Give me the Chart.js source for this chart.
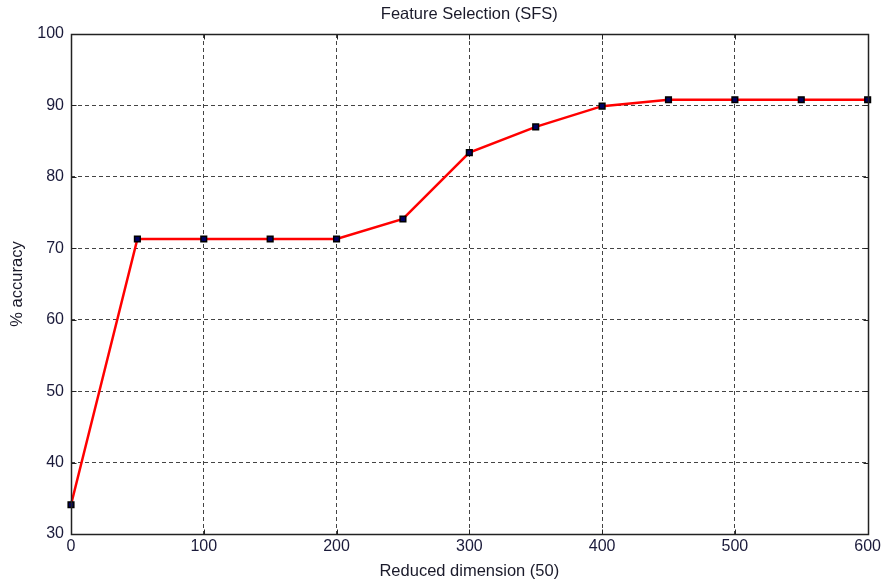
<!DOCTYPE html>
<html>
<head>
<meta charset="utf-8">
<style>
html,body{margin:0;padding:0;background:#fff;}
#wrap{width:884px;height:581px;position:relative;}
</style>
<script src="https://cdn.jsdelivr.net/npm/chart.js@4/dist/chart.umd.min.js"></script>
</head>
<body>
<div id="wrap"><canvas id="c" width="884" height="581"></canvas></div>
<script>
const dimensions = [0, 50, 100, 150, 200, 250, 300, 350, 400, 450, 500, 550, 600];
const accuracy = [34.1, 71.3, 71.3, 71.3, 71.3, 74.1, 83.4, 87.0, 89.9, 90.8, 90.8, 90.8, 90.8];
const xTicks = [0, 100, 200, 300, 400, 500, 600];
const yTicks = [30, 40, 50, 60, 70, 80, 90, 100];

const FONT = "'Liberation Sans', Arial, sans-serif";
const X_MIN = xTicks[0], X_MAX = xTicks[xTicks.length - 1];
const Y_MIN = yTicks[0], Y_MAX = yTicks[yTicks.length - 1];

const boxPlugin = {
  id: 'box',
  afterDatasetsDraw(chart) {
    const {ctx, scales} = chart;
    const x0 = Math.round(scales.x.getPixelForValue(X_MIN)) + 0.5;
    const x1 = Math.round(scales.x.getPixelForValue(X_MAX)) + 0.5;
    const y0 = Math.round(scales.y.getPixelForValue(Y_MIN)) + 0.5;
    const y1 = Math.round(scales.y.getPixelForValue(Y_MAX)) + 0.5;
    ctx.save();
    ctx.strokeStyle = '#222';
    ctx.lineWidth = 1;
    ctx.setLineDash([]);
    ctx.beginPath();
    const L = 5;
    xTicks.forEach(v => {
      const px = Math.round(scales.x.getPixelForValue(v)) + 0.5;
      ctx.moveTo(px, y0); ctx.lineTo(px, y0 - L);
      ctx.moveTo(px, y1); ctx.lineTo(px, y1 + L);
    });
    yTicks.forEach(v => {
      const py = Math.round(scales.y.getPixelForValue(v)) + 0.5;
      ctx.moveTo(x0, py); ctx.lineTo(x0 + L, py);
      ctx.moveTo(x1, py); ctx.lineTo(x1 - L, py);
    });
    ctx.stroke();
    ctx.lineWidth = 1.5;
    ctx.strokeRect(x0, y1, x1 - x0, y0 - y1);
    ctx.restore();
  }
};

const gridColor = (lo, hi) => c => (c.tick && (c.tick.value === lo || c.tick.value === hi)) ? 'rgba(0,0,0,0)' : '#444';

new Chart(document.getElementById('c'), {
  type: 'line',
  data: {
    datasets: [{
      data: dimensions.map((d, i) => ({x: d, y: accuracy[i]})),
      borderColor: '#ff0000',
      borderWidth: 2.5,
      tension: 0,
      pointStyle: 'rect',
      pointRadius: 4,
      pointBorderWidth: 1.5,
      pointBackgroundColor: '#000060',
      pointBorderColor: '#000000',
      clip: false
    }]
  },
  options: {
    responsive: false,
    animation: false,
    events: [],
    layout: {padding: {left: 0, right: 14, top: 0, bottom: 0}},
    plugins: {
      legend: {display: false},
      tooltip: {enabled: false},
      title: {
        display: true,
        fullSize: false,
        text: 'Feature Selection (SFS)',
        color: '#1a1a2a',
        font: {family: FONT, size: 16.5, weight: 'normal', lineHeight: 1.2},
        padding: {top: 5, bottom: 9.2}
      }
    },
    scales: {
      x: {
        type: 'linear',
        min: X_MIN, max: X_MAX,
        afterBuildTicks: s => { s.ticks = xTicks.map(v => ({value: v})); },
        afterFit: s => { s.height = 47; },
        ticks: {color: '#1a1a3a', font: {family: FONT, size: 16}, padding: 3, maxRotation: 0},
        grid: {color: gridColor(X_MIN, X_MAX), lineWidth: 1, drawTicks: false},
        border: {display: false, dash: [4, 3]},
        title: {display: true, text: 'Reduced dimension (50)', color: '#1a1a2a', font: {family: FONT, size: 16.5, lineHeight: 1.2}, padding: {top: 0, bottom: 0}}
      },
      y: {
        type: 'linear',
        min: Y_MIN, max: Y_MAX,
        afterBuildTicks: s => { s.ticks = yTicks.map(v => ({value: v})); },
        afterFit: s => { s.width = 71; },
        ticks: {color: '#1a1a3a', font: {family: FONT, size: 16}, padding: 7},
        grid: {color: gridColor(Y_MIN, Y_MAX), lineWidth: 1, drawTicks: false},
        border: {display: false, dash: [4, 3]},
        title: {display: true, text: '% accuracy', color: '#1a1a2a', font: {family: FONT, size: 16.5, lineHeight: 1.2}, padding: {top: 8, bottom: 0}}
      }
    }
  },
  plugins: [boxPlugin]
});
</script>
</body>
</html>
